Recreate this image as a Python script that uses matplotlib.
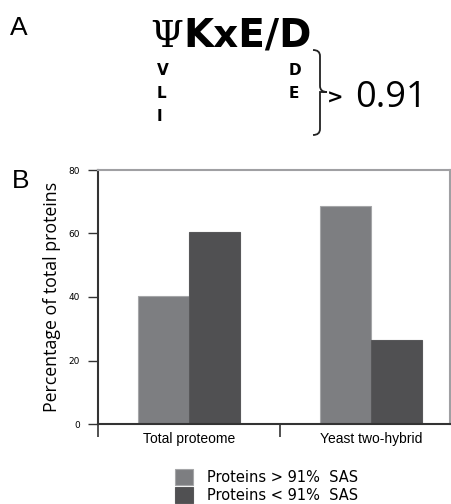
import numpy as np
import matplotlib.pyplot as plt
from matplotlib.path import Path
from matplotlib.patches import PathPatch

groups = ["Total proteome", "Yeast two-hybrid"]
above_sas = [40.3, 68.6]
below_sas = [60.5, 26.5]
series_labels = ["Proteins > 91%  SAS", "Proteins < 91%  SAS"]
y_ticks = [0, 20, 40, 60, 80]

W, H = 451, 504
fig = plt.figure(figsize=(W / 100, H / 100), dpi=100)


def fx(px):
    return px / W


def fy(py):
    return 1 - py / H


# panel A
fig.text(fx(10), fy(35), "A", fontsize=19, family="Liberation Sans", va="baseline")
fig.text(fx(150), fy(47), r"$\Psi$", fontsize=27, va="baseline",
         math_fontfamily="dejavuserif")
fig.text(fx(183), fy(47), "KxE/D", fontsize=28, weight="bold", va="baseline")
for i, aa in enumerate(["V", "L", "I"]):
    fig.text(fx(157), fy(75 + 23 * i), aa, fontsize=11, weight="bold", va="baseline")
for i, aa in enumerate(["D", "E"]):
    fig.text(fx(289), fy(75 + 23 * i), aa, fontsize=11, weight="bold", va="baseline")

# curly brace
bx0, bx1, tip = 313, 320, 327
y0, ym, y1 = 50, 92, 135
verts = [(bx0, y0), (bx1, y0), (bx1, y0 + 6), (bx1, ym - 6),
         (bx1, ym), (tip, ym), (bx1, ym),
         (bx1, ym), (bx1, ym + 6),
         (bx1, y1 - 6), (bx1, y1), (bx0, y1)]
codes = [Path.MOVETO, Path.CURVE3, Path.CURVE3, Path.LINETO,
         Path.CURVE3, Path.CURVE3, Path.CURVE3,
         Path.CURVE3, Path.CURVE3,
         Path.LINETO, Path.CURVE3, Path.CURVE3]
verts = [(fx(x), fy(y)) for x, y in verts]
fig.add_artist(PathPatch(Path(verts, codes), transform=fig.transFigure,
                         fill=False, lw=1.3, edgecolor="#222222"))
fig.text(fx(327), fy(104), ">", fontsize=14, weight="bold", va="baseline")
fig.text(fx(355), fy(107), "0.91", fontsize=26, family="Open Sans", va="baseline")

# panel B
fig.text(fx(12), fy(188), "B", fontsize=19, family="Liberation Sans", va="baseline")

ax = fig.add_axes([fx(98), fy(424), fx(450) - fx(98), fy(170) - fy(424)])
x = np.array([0.5, 1.5])
bw = 0.28
b1 = ax.bar(x - bw / 2, above_sas, bw, color="#7d7e81", edgecolor="#a5a6a8",
            linewidth=0.8, label=series_labels[0], zorder=2)
b2 = ax.bar(x + bw / 2, below_sas, bw, color="#505052", edgecolor="#58585a",
            linewidth=0.8, label=series_labels[1], zorder=2)

ax.set_xlim(0, (450 - 98) / 182)
ax.set_ylim(0, 80)
ax.set_yticks(y_ticks)
ax.tick_params(axis="y", labelsize=6.5, length=7, width=1, color="#333333", pad=6)
ax.set_xticks(x)
ax.set_xticklabels(groups, family="Liberation Sans", fontsize=10)
ax.tick_params(axis="x", length=0, pad=6)
ax.set_xticks([0, 1], minor=True)
ax.tick_params(axis="x", which="minor", length=9, width=1.2, color="#333333")
for side in ["left", "bottom"]:
    ax.spines[side].set_color("#333333")
    ax.spines[side].set_linewidth(1.5)
for side in ["top", "right"]:
    ax.spines[side].set_color("#a0a0a3")
    ax.spines[side].set_linewidth(1.5)
ax.set_ylabel("Percentage of total proteins", family="Open Sans", fontsize=12.8,
              labelpad=5)

fig.legend(handles=[b1, b2], labels=series_labels, loc="upper left",
           bbox_to_anchor=(fx(165), fy(459)), frameon=False,
           prop={"family": "DejaVu Sans", "size": 10.5},
           handlelength=1.25, handleheight=1.3, handletextpad=0.9,
           labelspacing=0.12, borderpad=0.2)

fig.savefig("out.png", dpi=100)
